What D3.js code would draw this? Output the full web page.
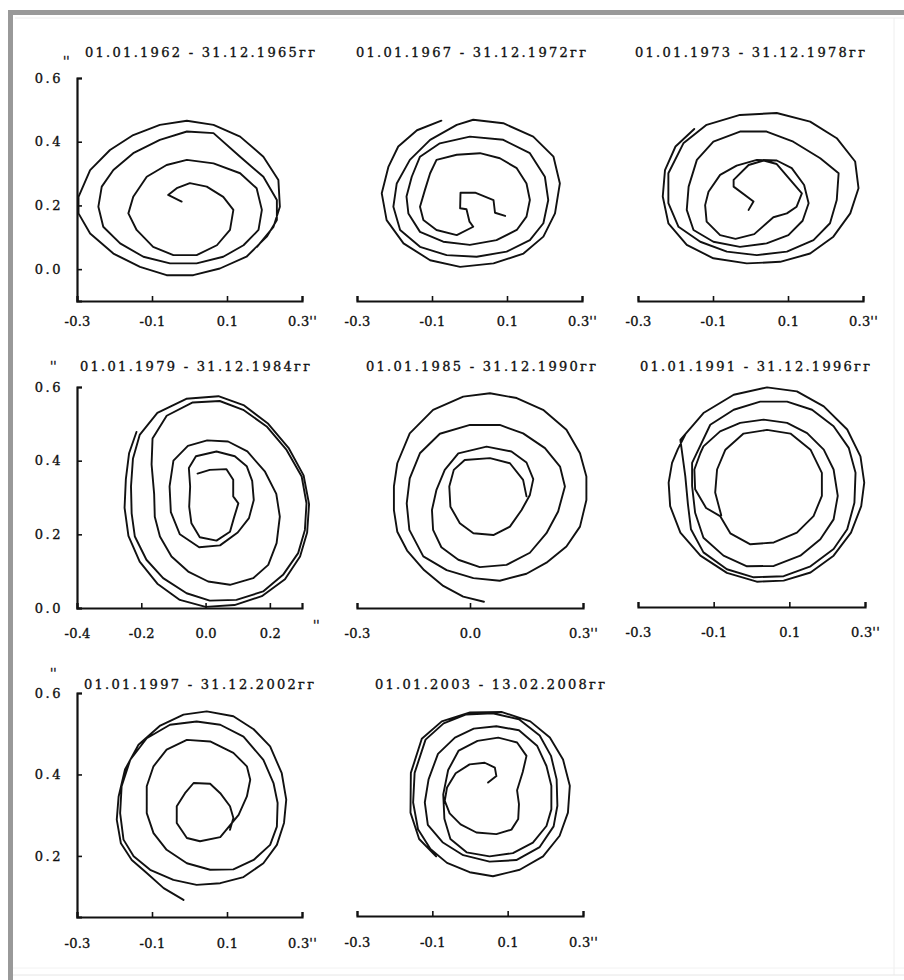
<!DOCTYPE html>
<html>
<head>
<meta charset="utf-8">
<script src="https://cdn.jsdelivr.net/npm/d3@7"></script>
<style>
    body { margin: 0; background: #fff; }
    svg { display: block; }
</style>
</head>
<body>
<svg id="chart" width="904" height="980"></svg>
<script>
// polar motion trajectories, one panel per period (x, y in arc seconds)

const titles = [
    '01.01.1962 - 31.12.1965гг',
    '01.01.1967 - 31.12.1972гг',
    '01.01.1973 - 31.12.1978гг',
    '01.01.1979 - 31.12.1984гг',
    '01.01.1985 - 31.12.1990гг',
    '01.01.1991 - 31.12.1996гг',
    '01.01.1997 - 31.12.2002гг',
    '01.01.2003 - 13.02.2008гг',
]

// tick values
const xTicksOdd = [-0.3, -0.1, 0.1, 0.3]
const xTicksEven = [-0.4, -0.2, 0.0, 0.2]
const xTicksWide = [-0.3, 0.0, 0.3]
const yTicksFull = [0.0, 0.2, 0.4, 0.6]
const yTicksTop = [0.2, 0.4, 0.6]

// trajectories, [x, y]
const path1962 = [[-0.021,0.212],[-0.057,0.233],[-0.034,0.254],[0.001,0.270],[0.046,0.259],[0.090,0.227],[0.117,0.186],[0.108,0.123],[0.073,0.075],[0.019,0.044],[-0.043,0.044],[-0.097,0.070],[-0.141,0.123],[-0.163,0.175],[-0.150,0.227],[-0.114,0.290],[-0.061,0.327],[-0.007,0.343],[0.064,0.332],[0.135,0.301],[0.179,0.254],[0.193,0.186],[0.184,0.123],[0.144,0.075],[0.090,0.039],[0.019,0.018],[-0.052,0.018],[-0.123,0.039],[-0.185,0.081],[-0.230,0.133],[-0.243,0.196],[-0.234,0.259],[-0.203,0.311],[-0.150,0.364],[-0.079,0.406],[-0.007,0.432],[0.064,0.427],[0.135,0.353],[0.197,0.290],[0.233,0.217],[0.233,0.154],[0.206,0.102],[0.152,0.039],[0.081,0.002],[0.010,-0.019],[-0.061,-0.019],[-0.132,0.007],[-0.203,0.049],[-0.265,0.112],[-0.296,0.175],[-0.296,0.227],[-0.265,0.311],[-0.212,0.374],[-0.150,0.421],[-0.079,0.453],[-0.007,0.466],[0.064,0.453],[0.135,0.416],[0.197,0.353],[0.237,0.280],[0.241,0.196],[0.224,0.133],[0.180,0.070]]

const path1967 = [[0.095,0.167],[0.068,0.177],[0.064,0.217],[0.015,0.240],[-0.024,0.240],[-0.025,0.191],[-0.008,0.188],[0.000,0.149],[0.010,0.133],[-0.034,0.107],[-0.088,0.123],[-0.123,0.154],[-0.132,0.196],[-0.119,0.248],[-0.105,0.301],[-0.088,0.343],[-0.034,0.359],[0.028,0.364],[0.081,0.348],[0.126,0.317],[0.152,0.269],[0.161,0.217],[0.152,0.165],[0.126,0.123],[0.072,0.091],[0.001,0.076],[-0.070,0.086],[-0.132,0.117],[-0.163,0.175],[-0.168,0.228],[-0.154,0.290],[-0.132,0.353],[-0.079,0.395],[0.001,0.416],[0.090,0.406],[0.161,0.364],[0.201,0.290],[0.210,0.217],[0.197,0.144],[0.161,0.091],[0.099,0.055],[0.019,0.039],[-0.061,0.044],[-0.132,0.070],[-0.185,0.123],[-0.203,0.196],[-0.194,0.269],[-0.159,0.343],[-0.105,0.406],[-0.034,0.453],[0.010,0.469],[0.090,0.458],[0.170,0.416],[0.224,0.353],[0.241,0.269],[0.228,0.175],[0.197,0.102],[0.144,0.049],[0.064,0.018],[-0.025,0.007],[-0.105,0.028],[-0.176,0.081],[-0.221,0.154],[-0.234,0.238],[-0.216,0.322],[-0.190,0.385],[-0.140,0.436],[-0.075,0.466]]

const path1973 = [[-0.005,0.186],[0.008,0.212],[-0.045,0.259],[-0.045,0.280],[-0.005,0.327],[0.035,0.341],[0.070,0.330],[0.106,0.280],[0.137,0.238],[0.123,0.196],[0.097,0.175],[0.061,0.163],[0.010,0.110],[-0.040,0.095],[-0.081,0.107],[-0.117,0.149],[-0.121,0.201],[-0.112,0.243],[-0.081,0.296],[-0.037,0.325],[0.017,0.343],[0.070,0.341],[0.110,0.317],[0.143,0.264],[0.155,0.207],[0.139,0.152],[0.101,0.107],[0.043,0.081],[-0.028,0.070],[-0.099,0.086],[-0.152,0.123],[-0.170,0.186],[-0.165,0.259],[-0.143,0.343],[-0.099,0.400],[-0.028,0.432],[0.043,0.432],[0.114,0.400],[0.186,0.348],[0.235,0.301],[0.230,0.217],[0.212,0.144],[0.168,0.091],[0.097,0.055],[0.017,0.044],[-0.063,0.055],[-0.134,0.086],[-0.192,0.133],[-0.219,0.207],[-0.219,0.301],[-0.179,0.395],[-0.117,0.453],[-0.028,0.484],[0.070,0.490],[0.159,0.463],[0.230,0.411],[0.279,0.338],[0.288,0.254],[0.266,0.175],[0.221,0.102],[0.159,0.049],[0.079,0.023],[-0.010,0.018],[-0.099,0.034],[-0.170,0.076],[-0.219,0.144],[-0.234,0.228],[-0.228,0.311],[-0.200,0.385],[-0.150,0.440]]

const path1979 = [[-0.025,0.365],[0.013,0.375],[0.065,0.377],[0.086,0.348],[0.086,0.303],[0.102,0.284],[0.088,0.244],[0.076,0.207],[0.034,0.183],[-0.018,0.192],[-0.044,0.230],[-0.051,0.275],[-0.048,0.330],[-0.052,0.380],[-0.030,0.412],[0.034,0.425],[0.091,0.412],[0.128,0.385],[0.145,0.345],[0.150,0.293],[0.135,0.244],[0.100,0.205],[0.045,0.170],[-0.020,0.165],[-0.080,0.200],[-0.108,0.260],[-0.112,0.330],[-0.100,0.400],[-0.055,0.440],[0.005,0.455],[0.070,0.452],[0.130,0.425],[0.185,0.370],[0.220,0.310],[0.231,0.248],[0.221,0.176],[0.195,0.117],[0.148,0.081],[0.076,0.063],[0.008,0.072],[-0.054,0.099],[-0.106,0.140],[-0.142,0.194],[-0.158,0.248],[-0.160,0.310],[-0.168,0.390],[-0.165,0.460],[-0.121,0.522],[-0.040,0.558],[0.044,0.562],[0.117,0.538],[0.190,0.493],[0.252,0.429],[0.299,0.357],[0.314,0.284],[0.309,0.212],[0.288,0.149],[0.241,0.090],[0.179,0.045],[0.096,0.022],[0.013,0.020],[-0.059,0.040],[-0.132,0.081],[-0.184,0.131],[-0.220,0.194],[-0.230,0.257],[-0.232,0.330],[-0.226,0.405],[-0.205,0.470],[-0.150,0.530],[-0.060,0.568],[0.040,0.575],[0.120,0.550],[0.195,0.500],[0.258,0.435],[0.305,0.360],[0.322,0.282],[0.316,0.205],[0.294,0.140],[0.247,0.078],[0.175,0.032],[0.090,0.008],[0.000,0.003],[-0.080,0.022],[-0.150,0.066],[-0.205,0.126],[-0.240,0.196],[-0.252,0.272],[-0.248,0.350],[-0.238,0.420],[-0.215,0.478]]

const path1985 = [[0.150,0.303],[0.141,0.348],[0.106,0.393],[0.053,0.407],[-0.014,0.402],[-0.043,0.375],[-0.055,0.330],[-0.052,0.275],[-0.027,0.230],[0.009,0.203],[0.062,0.198],[0.106,0.221],[0.137,0.266],[0.159,0.307],[0.168,0.350],[0.150,0.395],[0.110,0.425],[0.044,0.438],[-0.031,0.420],[-0.067,0.375],[-0.089,0.321],[-0.101,0.266],[-0.098,0.212],[-0.076,0.165],[-0.031,0.131],[0.026,0.111],[0.097,0.117],[0.159,0.150],[0.203,0.203],[0.234,0.262],[0.252,0.330],[0.239,0.384],[0.199,0.434],[0.141,0.474],[0.079,0.497],[0.000,0.497],[-0.080,0.473],[-0.133,0.420],[-0.160,0.352],[-0.168,0.284],[-0.161,0.212],[-0.124,0.140],[-0.062,0.103],[0.009,0.081],[0.079,0.074],[0.150,0.093],[0.203,0.123],[0.256,0.167],[0.292,0.221],[0.309,0.293],[0.309,0.357],[0.292,0.420],[0.256,0.484],[0.194,0.538],[0.124,0.570],[0.053,0.583],[-0.018,0.574],[-0.098,0.538],[-0.160,0.474],[-0.193,0.393],[-0.202,0.330],[-0.202,0.266],[-0.193,0.207],[-0.167,0.156],[-0.122,0.103],[-0.071,0.060],[-0.018,0.031],[0.037,0.017]]

const path1991 = [[-0.080,0.250],[-0.096,0.312],[-0.091,0.375],[-0.069,0.429],[-0.021,0.473],[0.041,0.483],[0.103,0.473],[0.156,0.429],[0.186,0.366],[0.186,0.303],[0.164,0.248],[0.120,0.203],[0.059,0.176],[-0.003,0.171],[-0.056,0.201],[-0.083,0.248],[-0.120,0.270],[-0.149,0.321],[-0.151,0.375],[-0.135,0.420],[-0.127,0.438],[-0.083,0.479],[-0.030,0.502],[0.032,0.511],[0.094,0.502],[0.147,0.474],[0.191,0.429],[0.217,0.375],[0.228,0.303],[0.217,0.239],[0.182,0.185],[0.129,0.140],[0.059,0.112],[-0.012,0.111],[-0.074,0.140],[-0.127,0.189],[-0.149,0.257],[-0.157,0.330],[-0.157,0.393],[-0.109,0.497],[-0.047,0.538],[0.023,0.560],[0.094,0.560],[0.160,0.538],[0.217,0.493],[0.257,0.434],[0.275,0.366],[0.272,0.284],[0.253,0.212],[0.217,0.158],[0.156,0.111],[0.085,0.084],[0.006,0.081],[-0.065,0.103],[-0.127,0.149],[-0.160,0.212],[-0.168,0.280],[-0.175,0.357],[-0.188,0.456],[-0.127,0.529],[-0.047,0.579],[0.041,0.599],[0.120,0.588],[0.191,0.547],[0.253,0.484],[0.288,0.411],[0.298,0.339],[0.290,0.275],[0.263,0.203],[0.217,0.140],[0.156,0.094],[0.085,0.072],[0.014,0.069],[-0.065,0.093],[-0.135,0.140],[-0.188,0.203],[-0.215,0.275],[-0.219,0.339],[-0.210,0.393],[-0.195,0.430],[-0.175,0.470]]

const path1997 = [[0.108,0.264],[0.117,0.293],[0.108,0.322],[0.082,0.354],[0.055,0.377],[0.011,0.379],[-0.012,0.354],[-0.034,0.322],[-0.034,0.281],[-0.007,0.244],[0.028,0.236],[0.082,0.246],[0.131,0.301],[0.153,0.346],[0.162,0.387],[0.153,0.420],[0.117,0.453],[0.055,0.481],[-0.007,0.485],[-0.061,0.461],[-0.096,0.420],[-0.114,0.371],[-0.114,0.305],[-0.096,0.256],[-0.061,0.215],[-0.007,0.182],[0.055,0.166],[0.117,0.167],[0.171,0.190],[0.215,0.227],[0.233,0.272],[0.235,0.330],[0.224,0.379],[0.197,0.436],[0.144,0.493],[0.082,0.522],[0.019,0.530],[-0.052,0.522],[-0.114,0.489],[-0.158,0.436],[-0.181,0.371],[-0.185,0.305],[-0.176,0.240],[-0.149,0.199],[-0.105,0.166],[-0.043,0.141],[0.019,0.129],[0.082,0.133],[0.144,0.148],[0.197,0.182],[0.233,0.227],[0.252,0.281],[0.258,0.338],[0.246,0.403],[0.215,0.469],[0.171,0.511],[0.117,0.543],[0.046,0.555],[-0.016,0.547],[-0.078,0.520],[-0.136,0.473],[-0.172,0.412],[-0.189,0.346],[-0.194,0.289],[-0.183,0.231],[-0.154,0.190],[-0.114,0.158],[-0.069,0.121],[-0.016,0.092]]

const path2003 = [[0.048,0.379],[0.070,0.395],[0.066,0.416],[0.039,0.428],[-0.001,0.424],[-0.038,0.402],[-0.061,0.367],[-0.067,0.334],[-0.054,0.303],[-0.025,0.276],[0.017,0.256],[0.070,0.252],[0.110,0.263],[0.128,0.289],[0.130,0.326],[0.125,0.360],[0.140,0.405],[0.150,0.445],[0.125,0.478],[0.075,0.490],[0.020,0.482],[-0.030,0.458],[-0.058,0.410],[-0.071,0.350],[-0.068,0.290],[-0.052,0.240],[-0.009,0.207],[0.052,0.197],[0.114,0.205],[0.167,0.231],[0.203,0.272],[0.216,0.313],[0.216,0.371],[0.203,0.420],[0.178,0.470],[0.130,0.508],[0.070,0.518],[0.010,0.512],[-0.040,0.490],[-0.085,0.450],[-0.110,0.387],[-0.120,0.330],[-0.112,0.275],[-0.073,0.232],[-0.018,0.200],[0.052,0.184],[0.123,0.188],[0.185,0.220],[0.222,0.271],[0.232,0.322],[0.230,0.387],[0.215,0.445],[0.185,0.495],[0.130,0.535],[0.060,0.550],[-0.010,0.547],[-0.070,0.525],[-0.118,0.485],[-0.147,0.403],[-0.151,0.330],[-0.138,0.264],[-0.105,0.215],[-0.061,0.181],[-0.001,0.158],[0.061,0.148],[0.132,0.164],[0.194,0.197],[0.238,0.248],[0.260,0.305],[0.265,0.371],[0.247,0.436],[0.212,0.490],[0.160,0.530],[0.085,0.553],[0.000,0.552],[-0.075,0.530],[-0.128,0.487],[-0.157,0.403],[-0.158,0.305],[-0.135,0.240],[-0.090,0.197]]

const FONT = '"DejaVu Serif", "Liberation Serif", serif'
const INK = '#111'

// panel layout: pixel boxes, label offsets
const panels = [
    { data: path1962, title: titles[0], xDom: [-0.3, 0.3], yDom: [-0.1, 0.6], xr: [77, 302], yr: [301, 78], xTicks: xTicksOdd, yTicks: yTicksFull, tx: 200, ty: 57, xPad: 16, unitDy: -12, unitDx: -14 },
    { data: path1967, title: titles[1], xDom: [-0.3, 0.3], yDom: [-0.1, 0.6], xr: [357, 582], yr: [301, 78], xTicks: xTicksOdd, tx: 471, ty: 57, xPad: 16 },
    { data: path1973, title: titles[2], xDom: [-0.3, 0.3], yDom: [-0.1, 0.6], xr: [638, 863], yr: [301, 78], xTicks: xTicksOdd, tx: 750, ty: 57, xPad: 16 },
    { data: path1979, title: titles[3], xDom: [-0.4, 0.3], yDom: [0.0, 0.6], xr: [77, 302], yr: [608, 387], xTicks: xTicksEven, yTicks: yTicksFull, tx: 195, ty: 371, xPad: 21, noUnit: true, unitDy: -16, unitDx: -27 },
    { data: path1985, title: titles[4], xDom: [-0.3, 0.3], yDom: [0.0, 0.6], xr: [357, 583], yr: [608, 387], xTicks: xTicksWide, tx: 481, ty: 371, xPad: 21 },
    { data: path1991, title: titles[5], xDom: [-0.3, 0.3], yDom: [0.0, 0.6], xr: [638, 865], yr: [607, 387], xTicks: xTicksOdd, tx: 755, ty: 371, xPad: 21 },
    { data: path1997, title: titles[6], xDom: [-0.3, 0.3], yDom: [0.05, 0.6], xr: [77, 302], yr: [917, 693], xTicks: xTicksOdd, yTicks: yTicksTop, tx: 199, ty: 689, xPad: 22, unitDy: -15, unitDx: -27 },
    { data: path2003, title: titles[7], xDom: [-0.3, 0.3], yDom: [0.05, 0.6], xr: [357, 583], yr: [916, 693], xTicks: xTicksOdd, tx: 490, ty: 689, xPad: 22 },
]

const svg = d3.select('#chart')

// scanned page frame: dark band top + left, faint lines right + bottom
svg.append('rect').attr('x', 8).attr('y', 10).attr('width', 896).attr('height', 5).attr('fill', '#999')
svg.append('rect').attr('x', 8).attr('y', 10).attr('width', 5).attr('height', 970).attr('fill', '#999')
svg.append('line').attr('x1', 15).attr('x2', 904).attr('y1', 18).attr('y2', 18).attr('stroke', '#ececec')
svg.append('line').attr('x1', 894).attr('x2', 894).attr('y1', 18).attr('y2', 975).attr('stroke', '#eeeeee')
svg.append('line').attr('x1', 13).attr('x2', 904).attr('y1', 968).attr('y2', 968).attr('stroke', '#f2f2f2')
svg.append('line').attr('x1', 13).attr('x2', 904).attr('y1', 975).attr('y2', 975).attr('stroke', '#e6e6e6')

const fmt = d => d.toFixed(1) // plain hyphen minus, like the scan

// scanned glyphs look heavier than a clean serif, so give text a hairline outline
const inkText = sel => sel
    .attr('font-family', FONT)
    .attr('fill', INK)
    .attr('stroke', INK)
    .attr('stroke-width', 0.35)

const styleAxis = (ax, spacing) => {
    ax.attr('font-family', FONT).attr('font-size', 13)
    ax.select('.domain').attr('stroke', INK).attr('stroke-width', 2.2)
    ax.selectAll('.tick line').attr('stroke', INK).attr('stroke-width', 1.6)
    ax.selectAll('.tick text').call(inkText).style('letter-spacing', `${spacing}px`)
}

panels.forEach(p => {
    const x = d3.scaleLinear().domain(p.xDom).range(p.xr)
    const y = d3.scaleLinear().domain(p.yDom).range(p.yr)
    const g = svg.append('g')

    // x axis along the bottom, ticks pointing up into the plot
    const ax = g.append('g')
        .attr('transform', `translate(0,${p.yr[0]})`)
        .call(d3.axisBottom(x)
            .tickValues(p.xTicks)
            .tickFormat(fmt)
            .tickSizeInner(-5)
            .tickSizeOuter(-5)
            .tickPadding(p.xPad))
    styleAxis(ax, 0.2)
    if (!p.noUnit) {
        ax.selectAll('.tick text')
            .filter((d, i, n) => i === n.length - 1)
            .text(d => fmt(d) + "''")
    } else {
        // arc-second mark sits alone past the end of the axis
        g.append('text').attr('x', p.xr[1] + 11).attr('y', p.yr[0] + 22)
            .attr('font-size', 12).call(inkText)
            .text("''")
    }

    // y axis only on the first column
    if (p.yTicks) {
        const ay = g.append('g')
            .attr('transform', `translate(${p.xr[0]},0)`)
            .call(d3.axisLeft(y)
                .tickValues(p.yTicks)
                .tickFormat(fmt)
                .tickSizeInner(-5)
                .tickSizeOuter(-5)
                .tickPadding(14))
        styleAxis(ay, 2.5)
        g.append('text')
            .attr('x', p.xr[0] + p.unitDx)
            .attr('y', y(0.6) + p.unitDy)
            .attr('font-size', 12).call(inkText)
            .text("''")
    }

    // period title, stretched to the scan's wide spacing
    g.append('text')
        .attr('x', p.tx).attr('y', p.ty)
        .attr('text-anchor', 'middle')
        .attr('font-size', 13).call(inkText)
        .attr('textLength', 230).attr('lengthAdjust', 'spacing')
        .text(p.title)

    // the trajectory itself
    g.append('path')
        .datum(p.data)
        .attr('fill', 'none')
        .attr('stroke', INK)
        .attr('stroke-width', 1.9)
        .attr('stroke-linejoin', 'round')
        .attr('stroke-linecap', 'round')
        .attr('d', d3.line().x(d => x(d[0])).y(d => y(d[1])))
})
</script>
</body>
</html>
